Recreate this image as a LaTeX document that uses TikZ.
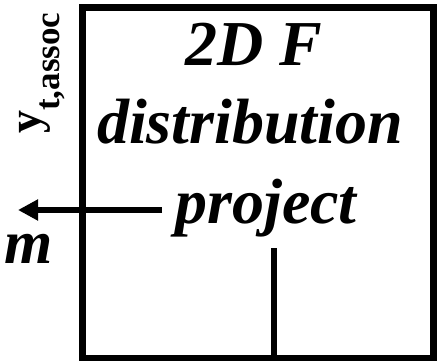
\documentclass[tikz,border=0pt]{standalone}
\usepackage{fontspec}
\setmainfont{Liberation Serif}
\usetikzlibrary{arrows.meta}
\tikzset{
  label big/.style={font=\fontsize{64}{64}\selectfont\bfseries\itshape, inner sep=0pt, anchor=base},
  frame/.style={draw, line width=7pt, rectangle, inner sep=0pt},
  wire/.style={line width=6pt},
}
\begin{document}
\begin{tikzpicture}[x=1pt, y=-1pt]
  \useasboundingbox (0,0) rectangle (445,361);
  \clip (0,0) rectangle (445,361);
  % the module frame
  \node[frame, minimum width=351.5pt, minimum height=350.5pt] (box) at (257.75,182.75) {};
  % labels inside the frame
  \node[label big] (t1) at (254,66) {2D F};
  \node[label big] (t2) at (250,143) {distribution};
  \node[label big] (t3) at (266,223) {project};
  % output label on the left
  \node[font=\fontsize{62}{62}\selectfont\bfseries\itshape, inner sep=0pt, anchor=base east] (out) at (53,263) {a\kern3pt m};
  % rotated input label
  \node[font=\fontsize{46}{46}\selectfont\bfseries, inner sep=0pt, anchor=base west, rotate=90] (yin) at (41,134)
    {y\raisebox{-18pt}{\fontsize{35}{35}\selectfont t,assoc}};
  % connectors
  \coordinate (arrstart) at (162,210);
  \coordinate (arrend) at (18,210);
  \draw[wire, -{Triangle[length=20pt, width=20pt]}] (arrstart) -- (arrend);
  \coordinate (stemtop) at (274,248);
  \draw[wire] (stemtop) -- (stemtop |- box.south);
\end{tikzpicture}
\end{document}
